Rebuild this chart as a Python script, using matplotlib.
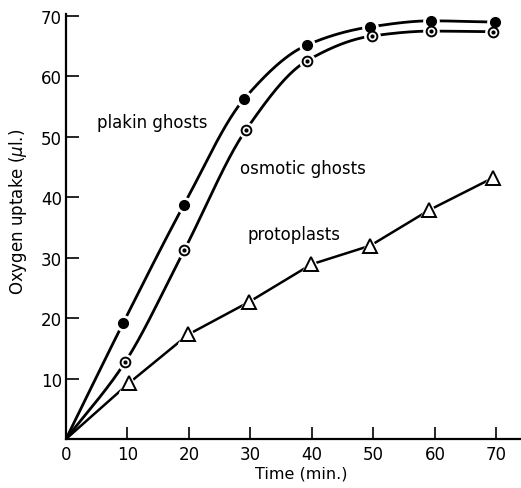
import numpy as np
import matplotlib
matplotlib.use("Agg")
import matplotlib.pyplot as plt

plt.rcParams['font.family'] = ['DejaVu Sans']

# Oxygen uptake (µl) against time (min)
plakin_t = [0, 9.3, 19.2, 29.0, 39.2, 49.5, 59.4, 69.7]
plakin_y = [0, 19.2, 38.8, 56.3, 65.2, 68.2, 69.2, 69.0]

osmotic_t = [0, 9.6, 19.2, 29.3, 39.2, 49.8, 59.4, 69.4]
osmotic_y = [0, 12.7, 31.2, 51.2, 62.6, 66.7, 67.5, 67.4]

proto_t = [0, 10.3, 19.9, 29.8, 39.9, 49.5, 59.1, 69.4]
proto_y = [0, 9.3, 17.3, 22.7, 28.9, 32.0, 37.9, 43.2]

x_ticks = [0, 10, 20, 30, 40, 50, 60, 70]
y_ticks = [10, 20, 30, 40, 50, 60, 70]


def pchip(x, y, n=400):
    """Monotone cubic curve through the given points."""
    x = np.asarray(x, float)
    y = np.asarray(y, float)
    h = np.diff(x)
    d = np.diff(y) / h
    m = np.zeros_like(y)
    for k in range(1, len(x) - 1):
        if d[k - 1] * d[k] > 0:
            w1 = 2 * h[k] + h[k - 1]
            w2 = h[k] + 2 * h[k - 1]
            m[k] = (w1 + w2) / (w1 / d[k - 1] + w2 / d[k])
    m[0] = d[0]
    m[-1] = d[-1] * 0.5
    xs = np.linspace(x[0], x[-1], n)
    idx = np.clip(np.searchsorted(x, xs) - 1, 0, len(x) - 2)
    t = (xs - x[idx]) / h[idx]
    h00 = 2 * t**3 - 3 * t**2 + 1
    h10 = t**3 - 2 * t**2 + t
    h01 = -2 * t**3 + 3 * t**2
    h11 = t**3 - t**2
    ys = (h00 * y[idx] + h10 * h[idx] * m[idx]
          + h01 * y[idx + 1] + h11 * h[idx] * m[idx + 1])
    return xs, ys


fig = plt.figure(figsize=(5.21, 4.89), dpi=100)
ax = fig.add_axes([0.1267, 0.1002, 0.8733, 0.87])

lw = 2.0
xs, ys = pchip(plakin_t, plakin_y)
ax.plot(xs, ys, color='black', lw=lw, zorder=2)
xs, ys = pchip(osmotic_t, osmotic_y)
ax.plot(xs, ys, color='black', lw=lw, zorder=2)
ax.plot(proto_t, proto_y, color='black', lw=lw * 0.9, zorder=2)

# white halos leave a small gap between the curves and the symbols
ax.plot(plakin_t[1:], plakin_y[1:], 'o', ms=11, color='white', zorder=3)
ax.plot(osmotic_t[1:], osmotic_y[1:], 'o', ms=11, color='white', zorder=3)
ax.plot(proto_t[1:], proto_y[1:], '^', ms=15, color='white', zorder=3)

ax.plot(plakin_t[1:], plakin_y[1:], 'o', ms=7, color='black', zorder=4)
ax.plot(osmotic_t[1:], osmotic_y[1:], 'o', ms=7, mfc='white', mec='black',
        mew=1.4, zorder=4)
ax.plot(osmotic_t[1:], osmotic_y[1:], 'o', ms=2, color='black', zorder=5)
ax.plot(proto_t[1:], proto_y[1:], '^', ms=10.5, mfc='white', mec='black',
        mew=1.4, zorder=4)

ax.text(5.0, 52.5, 'plakin ghosts', fontsize=12, va='center', ha='left')
ax.text(28.3, 44.8, 'osmotic ghosts', fontsize=12, va='center', ha='left')
ax.text(29.5, 34.0, 'protoplasts', fontsize=12, va='center', ha='left')

ax.set_xlim(0, 74.0)
ax.set_ylim(0, 70.4)
ax.set_xticks(x_ticks)
ax.set_yticks(y_ticks)
ax.tick_params(direction='in', length=9, width=1.2, labelsize=12)
ax.tick_params(axis='y', pad=3)
ax.tick_params(axis='x', pad=4)

for side in ('top', 'right'):
    ax.spines[side].set_visible(False)
for side in ('left', 'bottom'):
    ax.spines[side].set_linewidth(1.6)

ax.set_xlabel('Time (min.)', fontsize=11.5)
ax.set_ylabel('Oxygen uptake ($\\mu$l.)', fontsize=12)
ax.xaxis.set_label_coords((301 - 66) / 455, -0.063)
ax.yaxis.set_label_coords(-0.082, (440 - 212) / 425.4)

fig.savefig('out.png', dpi=100)
